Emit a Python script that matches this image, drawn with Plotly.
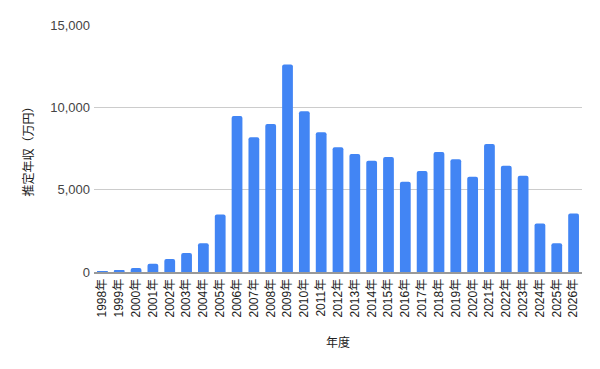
import plotly.graph_objects as go

years = [f"{y}年" for y in range(1998, 2027)]
income = [60, 120, 240, 500, 790, 1150, 1740, 3490, 9480, 8190, 8990, 12600,
          9760, 8490, 7580, 7170, 6750, 6990, 5480, 6140, 7290, 6850, 5780,
          7780, 6450, 5840, 2950, 1740, 3550]

font_family = "Arial, 'Liberation Sans', 'Noto Sans CJK JP', sans-serif"

fig = go.Figure(go.Bar(x=years, y=income, marker_color="#4285F4",
                       marker_line_width=0, marker_cornerradius=2))

fig.update_layout(
    width=600, height=369,
    margin=dict(l=94, r=18, t=25, b=97),
    paper_bgcolor="white", plot_bgcolor="white",
    bargap=0.36,
    font=dict(family=font_family, size=12, color="#222222"),
    showlegend=False,
)
fig.update_xaxes(
    title=dict(text="年度", font=dict(size=12, color="#222222"), standoff=22),
    tickangle=-90, tickfont=dict(size=12, color="#222222"),
    showline=True, linecolor="#999999", linewidth=2,
    showgrid=False, ticks="",
)
fig.update_yaxes(
    title=dict(text="推定年収（万円）", font=dict(size=12, color="#222222"), standoff=14),
    range=[0, 15000], tickvals=[0, 5000, 10000, 15000],
    ticktext=["0", "5,000", "10,000", "15,000"],
    tickfont=dict(size=13, color="#444444"),
    ticklabelstandoff=3,
    showgrid=True, gridcolor="#cccccc", gridwidth=1,
    zeroline=False, showline=False, ticks="",
)

fig.write_html("out.html")
